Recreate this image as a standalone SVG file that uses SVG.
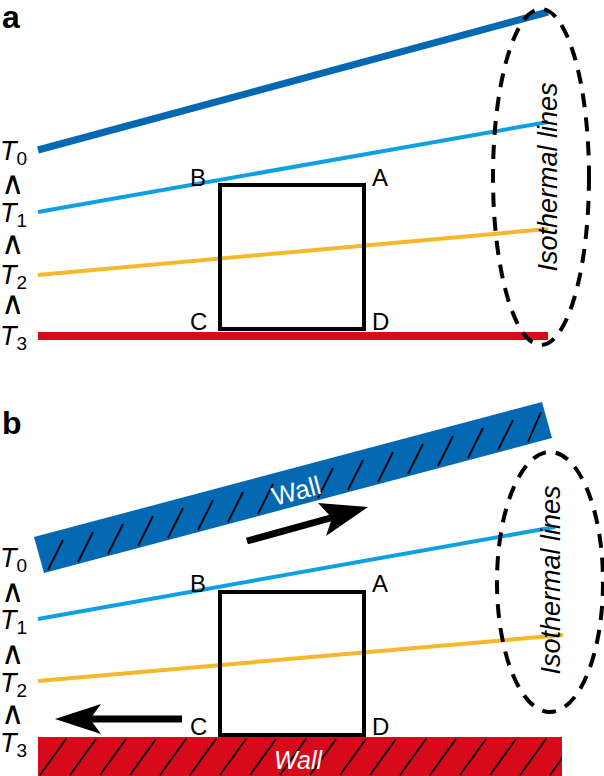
<svg xmlns="http://www.w3.org/2000/svg" width="604" height="776" viewBox="0 0 604 776">
<style>
text{font-family:"Liberation Sans",Arial,sans-serif;fill:#000}
.lbl{font-size:24px}
.tl{font-size:27px}
.it{font-style:italic}
.sub{font-size:19px}
.op{font-size:32px}
.box{fill:none;stroke:#000;stroke-width:4}
.ell{fill:none;stroke:#000;stroke-width:4;stroke-dasharray:14 10}
.h{stroke:#000;stroke-width:1.8}
</style>
<defs>
<pattern id="hatchR" width="30" height="40" patternUnits="userSpaceOnUse" x="38" y="737"><line x1="2" y1="38" x2="28" y2="2" class="h"/></pattern>
</defs>
<text x="2" y="28" style="font-size:32px;font-weight:bold">a</text>
<text x="2" y="434" style="font-size:32px;font-weight:bold">b</text>
<g id="connectors">
<line x1="38" y1="150" x2="548" y2="12" stroke="#0568b3" stroke-width="7"/>
<line x1="38" y1="212" x2="548" y2="122" stroke="#0ea0e2" stroke-width="4"/>
<line x1="38" y1="275" x2="548" y2="229" stroke="#f5b72c" stroke-width="4"/>
<line x1="38" y1="336" x2="548" y2="336" stroke="#d70a1b" stroke-width="8"/>
<line x1="38" y1="619" x2="555" y2="527" stroke="#0ea0e2" stroke-width="4"/>
<line x1="38" y1="681" x2="563" y2="635" stroke="#f5b72c" stroke-width="4"/>
<line x1="247" y1="541" x2="345" y2="514" stroke="#000" stroke-width="7"/>
<polygon points="368,507 318,503 332,518 326,536" fill="#000"/>
<line x1="182" y1="719" x2="80" y2="719" stroke="#000" stroke-width="7"/>
<polygon points="55,719 101,704 90,719 101,734" fill="#000"/>
</g>
<g id="wall-top">
<polygon points="34,537 542,402 552,438 44,573" fill="#0568b3"/>
<g class="h">
<line x1="48" y1="570" x2="63" y2="540"/><line x1="78" y1="562" x2="93" y2="532"/><line x1="108" y1="554" x2="123" y2="524"/><line x1="138" y1="546" x2="153" y2="516"/><line x1="168" y1="538" x2="183" y2="508"/><line x1="198" y1="530" x2="213" y2="500"/><line x1="228" y1="522" x2="243" y2="492"/><line x1="258" y1="514" x2="273" y2="484"/><line x1="318" y1="498" x2="333" y2="468"/><line x1="348" y1="490" x2="363" y2="460"/><line x1="378" y1="482" x2="393" y2="452"/><line x1="408" y1="474" x2="423" y2="444"/><line x1="438" y1="466" x2="453" y2="436"/><line x1="468" y1="458" x2="483" y2="428"/><line x1="498" y1="450" x2="513" y2="420"/><line x1="528" y1="442" x2="541" y2="412"/>
</g>
<text x="296" y="500" transform="rotate(-15 296 490)" style="font-size:26px;fill:#fff;text-anchor:middle">Wall</text>
</g>
<g id="wall-bottom">
<rect x="38" y="737" width="524" height="39" fill="#d70a1b"/>
<rect x="38" y="737" width="524" height="39" fill="url(#hatchR)"/>
<text x="298" y="769" class="it" style="font-size:25px;fill:#fff;text-anchor:middle">Wall</text>
</g>
<g id="box-a">
<rect x="220" y="185" width="144" height="144" class="box"/>
<text x="190" y="186" class="lbl">B</text><text x="372" y="186" class="lbl">A</text>
<text x="190" y="330" class="lbl">C</text><text x="372" y="330" class="lbl">D</text>
</g>
<g id="box-b">
<rect x="220" y="592" width="144" height="143" class="box"/>
<text x="190" y="592" class="lbl">B</text><text x="372" y="592" class="lbl">A</text>
<text x="190" y="735" class="lbl">C</text><text x="372" y="735" class="lbl">D</text>
</g>
<g id="iso-a">
<ellipse cx="541" cy="177" rx="48" ry="168" class="ell"/>
<text transform="translate(557 177) rotate(-90)" class="it" style="font-size:27px;text-anchor:middle">Isothermal lines</text>
</g>
<g id="iso-b">
<ellipse cx="550" cy="582" rx="53" ry="130" class="ell"/>
<text transform="translate(560 580) rotate(-90)" class="it" style="font-size:27px;text-anchor:middle">Isothermal lines</text>
</g>
<g id="labels-a">
<text x="0" y="160" class="tl"><tspan class="it">T</tspan><tspan class="sub" dy="5">0</tspan></text>
<text x="1" y="194" class="op">∧</text>
<text x="0" y="222" class="tl"><tspan class="it">T</tspan><tspan class="sub" dy="5">1</tspan></text>
<text x="1" y="254" class="op">∧</text>
<text x="0" y="284" class="tl"><tspan class="it">T</tspan><tspan class="sub" dy="5">2</tspan></text>
<text x="1" y="314" class="op">∧</text>
<text x="0" y="345" class="tl"><tspan class="it">T</tspan><tspan class="sub" dy="5">3</tspan></text>
</g>
<g id="labels-b">
<text x="0" y="567" class="tl"><tspan class="it">T</tspan><tspan class="sub" dy="5">0</tspan></text>
<text x="1" y="602" class="op">∧</text>
<text x="0" y="629" class="tl"><tspan class="it">T</tspan><tspan class="sub" dy="5">1</tspan></text>
<text x="1" y="664" class="op">∧</text>
<text x="0" y="692" class="tl"><tspan class="it">T</tspan><tspan class="sub" dy="5">2</tspan></text>
<text x="1" y="724" class="op">∧</text>
<text x="0" y="752" class="tl"><tspan class="it">T</tspan><tspan class="sub" dy="5">3</tspan></text>
</g>
</svg>
